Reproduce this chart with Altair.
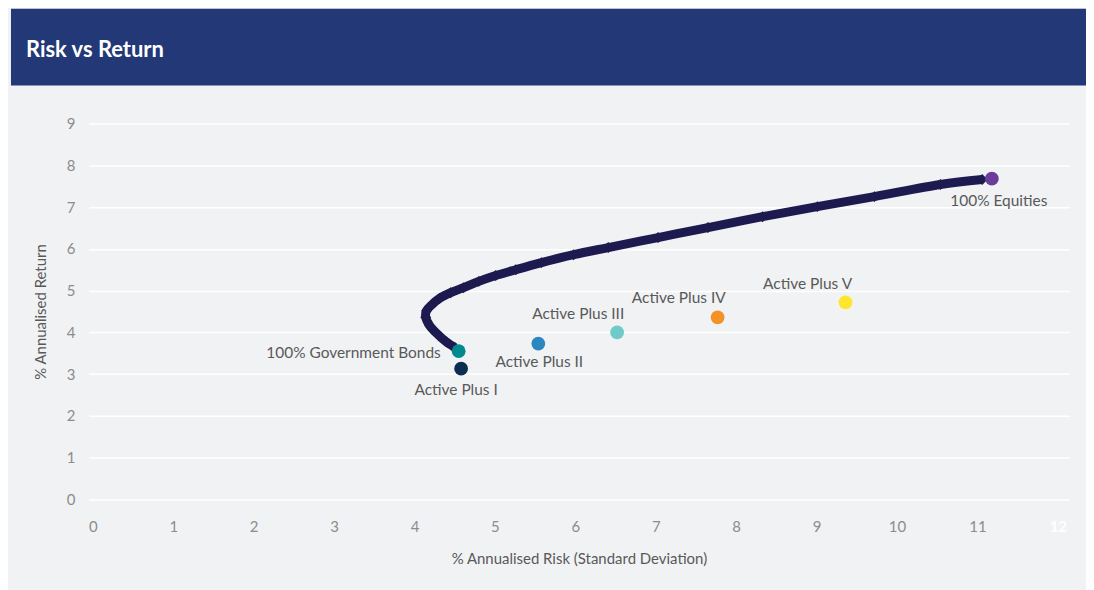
import altair as alt
import pandas as pd

TITLE = "Risk vs Return"
X_TITLE = "% Annualised Risk (Standard Deviation)"
Y_TITLE = "% Annualised Return"
X_TICKS = list(range(0, 13))
Y_TICKS = list(range(0, 10))

# Portfolios
names = ["100% Government Bonds", "Active Plus I", "Active Plus II", "Active Plus III",
         "Active Plus IV", "Active Plus V", "100% Equities"]
risk = [4.55, 4.58, 5.54, 6.52, 7.77, 9.36, 11.18]
ret = [3.55, 3.13, 3.73, 4.00, 4.36, 4.72, 7.68]
colors = ["#00898f", "#0c2c52", "#2a87c0", "#6ecbc8", "#f39226", "#fde62b", "#6a3d9a"]

# Efficient frontier
frontier_risk = [4.50, 4.39, 4.28, 4.19, 4.14, 4.15, 4.22, 4.31, 4.45, 4.61, 4.80, 5.01,
                 5.26, 5.58, 5.98, 6.41, 7.03, 7.65, 8.33, 9.01, 9.72, 10.54, 11.06]
frontier_ret = [3.64, 3.78, 3.97, 4.16, 4.36, 4.52, 4.67, 4.81, 4.95, 5.07, 5.22, 5.36,
                5.50, 5.67, 5.86, 6.03, 6.27, 6.51, 6.77, 7.01, 7.25, 7.54, 7.66]

FONT = "Lato"
pts = pd.DataFrame({"name": names, "risk": risk, "ret": ret, "color": colors})
fr = pd.DataFrame({"idx": list(range(len(frontier_risk))), "risk": frontier_risk, "ret": frontier_ret})

xscale = alt.Scale(domain=[-0.05, 12.14], nice=False, zero=False)
yscale = alt.Scale(domain=[0, 9], nice=False)

xaxis = alt.Axis(values=X_TICKS, format="d", grid=False, domain=False, ticks=False, title=X_TITLE,
                 labelFont=FONT, labelFontSize=15,
                 labelColor=alt.expr("datum.value == 12 ? '#ffffff' : '#8c8c8c'"),
                 labelFontWeight=alt.expr("datum.value == 12 ? 'bold' : 'normal'"),
                 labelPadding=20, titlePadding=17, titleFont=FONT, titleFontSize=15,
                 titleFontWeight="normal", titleColor="#595959")
yaxis = alt.Axis(values=Y_TICKS, format="d", grid=True, gridColor="#ffffff", gridWidth=1.5,
                 domain=False, ticks=False, title=Y_TITLE,
                 labelFont=FONT, labelFontSize=15, labelColor="#8c8c8c", labelPadding=14,
                 titlePadding=18, titleFont=FONT, titleFontSize=15,
                 titleFontWeight="normal", titleColor="#595959")

base_fr = alt.Chart(fr)
line = base_fr.mark_line(color="#1d1a50", strokeWidth=9, interpolate="catmull-rom").encode(
    x=alt.X("risk:Q", scale=xscale, axis=xaxis),
    y=alt.Y("ret:Q", scale=yscale, axis=yaxis),
    order="idx:Q",
)
diamonds = base_fr.mark_point(shape="diamond", filled=True, color="#1d1a50", size=120, opacity=1).encode(
    x=alt.X("risk:Q", scale=xscale),
    y=alt.Y("ret:Q", scale=yscale),
)
dots = alt.Chart(pts).mark_circle(size=190, opacity=1).encode(
    x=alt.X("risk:Q", scale=xscale),
    y=alt.Y("ret:Q", scale=yscale),
    color=alt.Color("color:N", scale=None),
)

label_style = {
    "100% Government Bonds": ("right", -18, 2),
    "Active Plus I": ("center", -5, 21),
    "Active Plus II": ("center", 1, 18),
    "Active Plus III": ("center", -39, -18),
    "Active Plus IV": ("center", -39, -19),
    "Active Plus V": ("center", -38, -18),
    "100% Equities": ("center", 7, 22),
}
labels = []
for nm, (al, ddx, ddy) in label_style.items():
    labels.append(
        alt.Chart(pts).transform_filter(alt.datum.name == nm).mark_text(
            align=al, baseline="middle", dx=ddx, dy=ddy, font=FONT, fontSize=15.5, color="#595959"
        ).encode(
            x=alt.X("risk:Q", scale=xscale),
            y=alt.Y("ret:Q", scale=yscale),
            text="name:N",
        )
    )

main = alt.layer(line, diamonds, dots, *labels).properties(width=983, height=377)

header = alt.Chart(pd.DataFrame({"t": [TITLE]})).mark_text(
    align="left", baseline="middle", font=FONT, fontSize=22, fontWeight="bold", color="#ffffff"
).encode(
    x=alt.value(15), y=alt.value(41), text="t:N"
).properties(width=1078, height=77, view=alt.ViewBackground(fill="#233876", strokeWidth=0))

spacer = alt.Chart(pd.DataFrame({"a": [0]})).mark_point(opacity=0).encode(
    x=alt.value(0), y=alt.value(0)
).properties(width=22, height=10)

chart = alt.vconcat(
    header,
    alt.hconcat(spacer, main, spacing=0),
    spacing=31,
).properties(
    padding={"left": 0, "top": 0, "right": 0, "bottom": 40},
    background="#f1f2f4",
).configure_view(strokeWidth=0)

chart.save("out.html", embed_options={"renderer": "svg", "actions": False})
